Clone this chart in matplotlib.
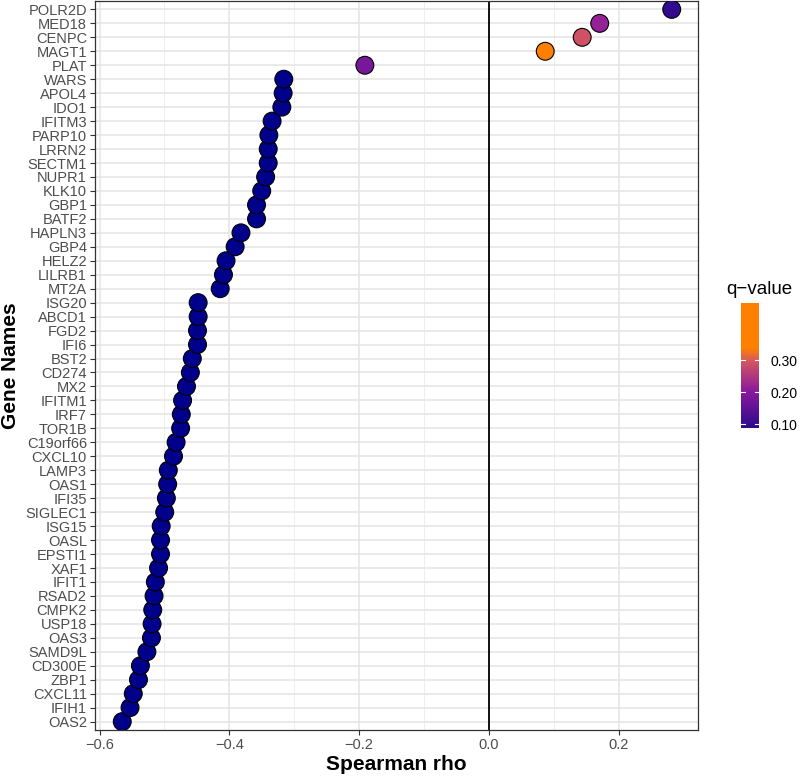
import matplotlib
matplotlib.use("Agg")
import matplotlib.pyplot as plt
from matplotlib.colors import LinearSegmentedColormap, Normalize
from matplotlib.cm import ScalarMappable

plt.rcParams['font.family'] = ['Liberation Sans', 'DejaVu Sans']

# genes, top to bottom
genes = ['POLR2D', 'MED18', 'CENPC', 'MAGT1', 'PLAT', 'WARS', 'APOL4', 'IDO1',
         'IFITM3', 'PARP10', 'LRRN2', 'SECTM1', 'NUPR1', 'KLK10', 'GBP1', 'BATF2',
         'HAPLN3', 'GBP4', 'HELZ2', 'LILRB1', 'MT2A', 'ISG20', 'ABCD1', 'FGD2',
         'IFI6', 'BST2', 'CD274', 'MX2', 'IFITM1', 'IRF7', 'TOR1B', 'C19orf66',
         'CXCL10', 'LAMP3', 'OAS1', 'IFI35', 'SIGLEC1', 'ISG15', 'OASL', 'EPSTI1',
         'XAF1', 'IFIT1', 'RSAD2', 'CMPK2', 'USP18', 'OAS3', 'SAMD9L', 'CD300E',
         'ZBP1', 'CXCL11', 'IFIH1', 'OAS2']
rho = [0.282, 0.171, 0.144, 0.087, -0.191, -0.316, -0.317, -0.319,
       -0.334, -0.339, -0.340, -0.340, -0.344, -0.350, -0.358, -0.358,
       -0.382, -0.391, -0.405, -0.409, -0.414, -0.448, -0.448, -0.449,
       -0.449, -0.457, -0.460, -0.466, -0.472, -0.474, -0.475, -0.482,
       -0.486, -0.494, -0.495, -0.497, -0.4995, -0.505, -0.506, -0.506,
       -0.509, -0.514, -0.516, -0.518, -0.519, -0.520, -0.527, -0.537,
       -0.540, -0.548, -0.553, -0.565]
qval = [0.095, 0.215, 0.290, 0.420, 0.180, 0.002, 0.002, 0.002,
        0.001, 0.002, 0.003, 0.001, 0.002, 0.003, 0.001, 0.001,
        0.004, 0.001, 0.001, 0.002, 0.001, 0.001, 0.001, 0.001,
        0.001, 0.001, 0.001, 0.001, 0.001, 0.001, 0.001, 0.001,
        0.001, 0.001, 0.001, 0.001, 0.001, 0.001, 0.001, 0.001,
        0.001, 0.001, 0.001, 0.001, 0.001, 0.001, 0.001, 0.001,
        0.001, 0.001, 0.001, 0.001]
q_ticks = [0.10, 0.20, 0.30]

qmin, qmax = 0.088, 0.478
cmap = LinearSegmentedColormap.from_list('qv', [
    (0.0, '#2c0a8c'), (0.30, '#8c1a9c'), (0.54, '#d5585e'),
    (0.64, '#ff8000'), (1.0, '#ff8000')])
cmap.set_under('#00008b')
norm = Normalize(vmin=qmin, vmax=qmax)

fig = plt.figure(figsize=(8, 7.79), dpi=100)
ax = fig.add_axes([95/800, 1-730/779, 603/800, 729/779])

g = genes[::-1]
ax.scatter(rho[::-1], g, c=qval[::-1], cmap=cmap, norm=norm, s=165,
           edgecolors='black', linewidths=0.8, zorder=3)
ax.axvline(0, color='black', lw=1.3, zorder=2)

ax.set_xlim(-0.607, 0.3225)
ax.set_ylim(-0.6, len(genes) - 0.4)
ax.set_xticks([-0.6, -0.4, -0.2, 0.0, 0.2])
ax.set_xticklabels(['\u22120.6', '\u22120.4', '\u22120.2', '0.0', '0.2'])
ax.set_xticks([-0.5, -0.3, -0.1, 0.1], minor=True)
ax.grid(True, which='major', color='#e6e6e6', lw=1.2, zorder=0)
ax.grid(True, which='minor', axis='x', color='#ebebeb', lw=0.6, zorder=0)
ax.set_axisbelow(True)
ax.tick_params(which='major', length=3.8, width=0.8, color='#333333',
               labelsize=10.5, labelcolor='#4d4d4d', pad=2)
ax.tick_params(which='minor', length=0)
for sp in ax.spines.values():
    sp.set_color('#333333')
    sp.set_linewidth(0.9)

ax.set_xlabel('Spearman rho', fontsize=15, fontweight='bold', labelpad=2)
ax.set_ylabel('Gene Names', fontsize=15, fontweight='bold', labelpad=4)

# colour bar legend
cax = fig.add_axes([741/800, 1-428/779, 18/800, 125/779])
cb = fig.colorbar(ScalarMappable(norm=norm, cmap=cmap), cax=cax, ticks=q_ticks)
cb.outline.set_visible(False)
cb.ax.set_yticklabels(['%.2f' % t for t in q_ticks])
cb.ax.tick_params(length=0, labelsize=10, labelcolor='black', pad=8)
for t in q_ticks:
    cax.plot([0, 0.2], [t, t], color='white', lw=0.8, transform=cax.get_yaxis_transform())
    cax.plot([0.8, 1], [t, t], color='white', lw=0.8, transform=cax.get_yaxis_transform())
fig.text(726/800, 1-289/779, 'q\u2212value', fontsize=13.5, va='center', ha='left')

fig.savefig('out.png', dpi=100)
